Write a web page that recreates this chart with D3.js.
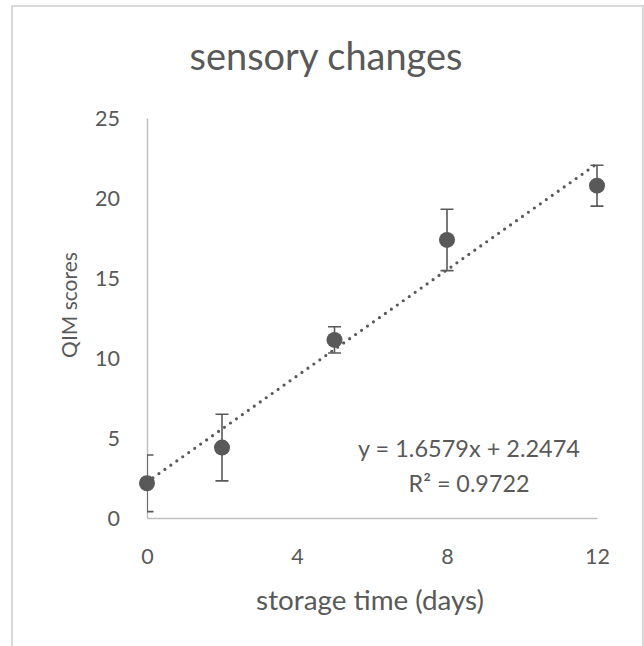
<!DOCTYPE html>
<html><head><meta charset="utf-8">
<script src="https://cdn.jsdelivr.net/npm/d3@7"></script>
<style>body{margin:0;background:#fff;} svg{display:block;}</style>
</head><body><svg id="c" width="644" height="646"></svg>
<script>
// ---- data ----
const days = [0, 2, 5, 8, 12];
const qimScores = [2.17, 4.40, 11.13, 17.38, 20.77];
const qimErrors = [1.77, 2.08, 0.82, 1.92, 1.28];
const xTicks = [0, 4, 8, 12];
const yTicks = [0, 5, 10, 15, 20, 25];
const trendSlope = 1.6579, trendIntercept = 2.2474, rSquared = 0.9722;
const chartTitle = "sensory changes";
const xTitle = "storage time (days)";
const yTitle = "QIM scores";
const eqLine1 = "y = 1.6579x + 2.2474";
const eqLine2 = "R² = 0.9722";

// ---- layout ----
const svg = d3.select("#c");
const FONT = "Lato, 'Open Sans', sans-serif";
const TXT = "#595959";
const MARK = "#595959";

function fit(sel, w) {
  const l = sel.node().getComputedTextLength();
  const fs = parseFloat(sel.attr("font-size"));
  const nf = fs * w / l;
  sel.attr("font-size", nf);
  return nf;
}

svg.append("rect").attr("x", 12).attr("y", 6).attr("width", 631).attr("height", 680)
  .attr("fill", "#fff").attr("stroke", "#d9d9d9").attr("stroke-width", 2);

const x = d3.scaleLinear().domain([0, 12]).range([147, 597]);
const y = d3.scaleLinear().domain([0, 25]).range([518, 118]);

// measure tick font size
const probe = svg.append("text").attr("font-family", FONT).attr("font-size", 20).text("25");
const tickFs = fit(probe, 25);
probe.remove();
const cap = 0.72 * tickFs;

// y axis
const gy = svg.append("g").attr("transform", `translate(${x(0)},0)`)
  .call(d3.axisLeft(y).tickValues(yTicks).tickSize(0).tickSizeOuter(0).tickPadding(27));
gy.select(".domain").attr("stroke", "#bfbfbf").attr("stroke-width", 1.5);
gy.selectAll("text").attr("font-family", FONT).attr("font-size", tickFs).attr("fill", TXT)
  .attr("dy", null).attr("y", cap / 2);

// x axis
const gx = svg.append("g").attr("transform", `translate(0,${y(0)})`)
  .call(d3.axisBottom(x).tickValues(xTicks).tickSize(0).tickSizeOuter(0));
gx.select(".domain").attr("stroke", "#bfbfbf").attr("stroke-width", 1.5);
gx.selectAll("text").attr("font-family", FONT).attr("font-size", tickFs).attr("fill", TXT)
  .attr("dy", null).attr("y", 564 - y(0));

// clip for error bars
svg.append("clipPath").attr("id", "plot").append("rect")
  .attr("x", x(0)).attr("y", 0).attr("width", x(12) - x(0) + 10).attr("height", y(0));

const pts = days.map((d, i) => ({ d, v: qimScores[i], e: qimErrors[i] }));

// error bars
const eb = svg.append("g").attr("clip-path", "url(#plot)").attr("stroke", MARK).attr("stroke-width", 1.6).attr("fill", "none");
eb.selectAll("path").data(pts).join("path")
  .attr("d", p => {
    const cx = x(p.d), t = y(p.v + p.e), b = y(p.v - p.e), w = 6.5;
    return `M${cx},${t}V${b}M${cx - w},${t}H${cx + w}M${cx - w},${b}H${cx + w}`;
  });

// markers
svg.append("g").selectAll("circle").data(pts).join("circle")
  .attr("cx", p => x(p.d)).attr("cy", p => y(p.v)).attr("r", 8).attr("fill", MARK);

// trendline
const line = d3.line().x(d => x(d)).y(d => y(trendSlope * d + trendIntercept));
svg.append("path").datum([0, 12]).attr("d", line)
  .attr("fill", "none").attr("stroke", MARK).attr("stroke-width", 3.2)
  .attr("stroke-linecap", "round").attr("stroke-dasharray", "0,7.3");

// title
const t = svg.append("text").attr("x", 326).attr("y", 70).attr("text-anchor", "middle")
  .attr("font-family", FONT).attr("font-size", 36).attr("fill", TXT).text(chartTitle);
fit(t, 273);

// axis titles
const xt = svg.append("text").attr("x", 370).attr("y", 610).attr("text-anchor", "middle")
  .attr("font-family", FONT).attr("font-size", 26).attr("fill", TXT).text(xTitle);
fit(xt, 228);
const yt = svg.append("text").attr("transform", "translate(77,305) rotate(-90)").attr("text-anchor", "middle")
  .attr("font-family", FONT).attr("font-size", 22).attr("fill", TXT).text(yTitle);
fit(yt, 106);

// equation
const e1 = svg.append("text").attr("x", 469).attr("y", 457).attr("text-anchor", "middle")
  .attr("font-family", FONT).attr("font-size", 22).attr("fill", TXT).text(eqLine1);
fit(e1, 222);
const e2 = svg.append("text").attr("x", 469).attr("y", 492).attr("text-anchor", "middle")
  .attr("font-family", FONT).attr("font-size", 22).attr("fill", TXT).text(eqLine2);
fit(e2, 121);
</script>
</body></html>
